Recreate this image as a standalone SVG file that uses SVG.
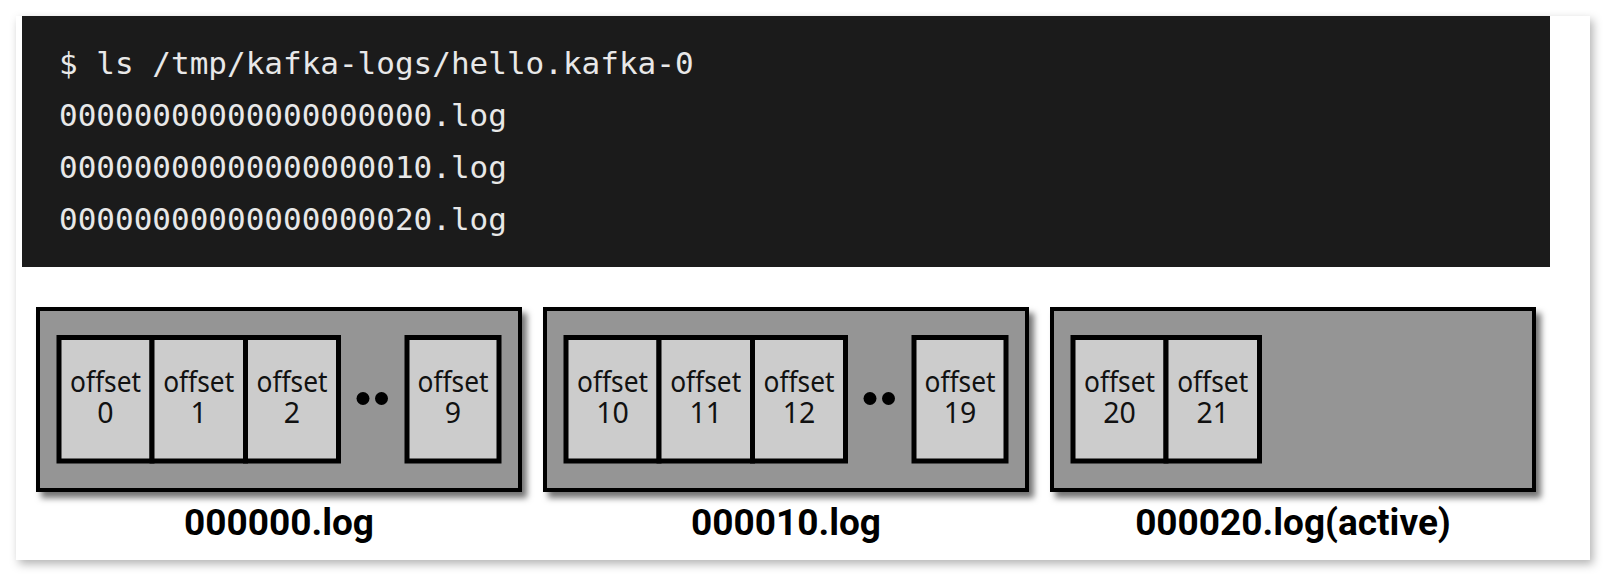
<svg xmlns="http://www.w3.org/2000/svg" width="1606" height="576" viewBox="0 0 1606 576">
  <defs>
    <filter id="cardShadow" x="-5%" y="-10%" width="110%" height="120%">
      <feDropShadow dx="3" dy="4" stdDeviation="5" flood-color="#000" flood-opacity="0.3"/>
    </filter>
    <filter id="boxShadow" x="-5%" y="-10%" width="112%" height="125%">
      <feDropShadow dx="5" dy="6" stdDeviation="3" flood-color="#000" flood-opacity="0.55"/>
    </filter>
  </defs>
  <style>
    .term { font-family: "DejaVu Sans Mono", "Liberation Mono", monospace; font-size: 31px; fill: #e8e8e8; }
    .seg { fill: #959595; stroke: #000; stroke-width: 4; }
    .cell { fill: #cccccc; stroke: #000; stroke-width: 5; }
    .ct { font-family: "Noto Sans", "Open Sans", sans-serif; font-size: 28.5px; fill: #111; text-anchor: middle; }
    .lbl { font-family: Roboto, "Liberation Sans", sans-serif; font-weight: 700; font-size: 37px; fill: #000; text-anchor: middle; }
    .dot { fill: #000; }
  </style>

  <!-- page card -->
  <rect x="16" y="16" width="1574" height="544" fill="#fff" filter="url(#cardShadow)"/>

  <!-- terminal listing -->
  <g id="terminal">
    <rect x="22" y="16" width="1528" height="251" fill="#1b1b1b"/>
    <text class="term" x="59" y="74">$ ls /tmp/kafka-logs/hello.kafka-0</text>
    <text class="term" x="59" y="126">00000000000000000000.log</text>
    <text class="term" x="59" y="178">00000000000000000010.log</text>
    <text class="term" x="59" y="230">00000000000000000020.log</text>
  </g>

  <!-- segment 000000.log -->
  <g id="segment-000000" transform="translate(36,307)">
    <rect class="seg" x="2" y="2" width="482" height="181" filter="url(#boxShadow)"/>
    <rect class="cell" x="23" y="30.5" width="93" height="123.5"/>
    <rect class="cell" x="116" y="30.5" width="93.5" height="123.5"/>
    <rect class="cell" x="209.5" y="30.5" width="93" height="123.5"/>
    <rect class="cell" x="371" y="30.5" width="92" height="123.5"/>
    <text class="ct" x="69.5" y="84.7" textLength="71" lengthAdjust="spacingAndGlyphs">offset</text><text class="ct" x="69.5" y="116.3">0</text>
    <text class="ct" x="162.7" y="84.7" textLength="71" lengthAdjust="spacingAndGlyphs">offset</text><text class="ct" x="162.7" y="116.3">1</text>
    <text class="ct" x="256" y="84.7" textLength="71" lengthAdjust="spacingAndGlyphs">offset</text><text class="ct" x="256" y="116.3">2</text>
    <circle class="dot" cx="327" cy="91.5" r="6.5"/>
    <circle class="dot" cx="345.5" cy="91.5" r="6.5"/>
    <text class="ct" x="417" y="84.7" textLength="71" lengthAdjust="spacingAndGlyphs">offset</text><text class="ct" x="417" y="116.3">9</text>
    <text class="lbl" x="243" y="228">000000.log</text>
  </g>

  <!-- segment 000010.log -->
  <g id="segment-000010" transform="translate(543,307)">
    <rect class="seg" x="2" y="2" width="482" height="181" filter="url(#boxShadow)"/>
    <rect class="cell" x="23" y="30.5" width="93" height="123.5"/>
    <rect class="cell" x="116" y="30.5" width="93.5" height="123.5"/>
    <rect class="cell" x="209.5" y="30.5" width="93" height="123.5"/>
    <rect class="cell" x="371" y="30.5" width="92" height="123.5"/>
    <text class="ct" x="69.5" y="84.7" textLength="71" lengthAdjust="spacingAndGlyphs">offset</text><text class="ct" x="69.5" y="116.3">10</text>
    <text class="ct" x="162.7" y="84.7" textLength="71" lengthAdjust="spacingAndGlyphs">offset</text><text class="ct" x="162.7" y="116.3">11</text>
    <text class="ct" x="256" y="84.7" textLength="71" lengthAdjust="spacingAndGlyphs">offset</text><text class="ct" x="256" y="116.3">12</text>
    <circle class="dot" cx="327" cy="91.5" r="6.5"/>
    <circle class="dot" cx="345.5" cy="91.5" r="6.5"/>
    <text class="ct" x="417" y="84.7" textLength="71" lengthAdjust="spacingAndGlyphs">offset</text><text class="ct" x="417" y="116.3">19</text>
    <text class="lbl" x="243" y="228">000010.log</text>
  </g>

  <!-- segment 000020.log (active) -->
  <g id="segment-000020" transform="translate(1050,307)">
    <rect class="seg" x="2" y="2" width="482" height="181" filter="url(#boxShadow)"/>
    <rect class="cell" x="23" y="30.5" width="93" height="123.5"/>
    <rect class="cell" x="116" y="30.5" width="93.5" height="123.5"/>
    <text class="ct" x="69.5" y="84.7" textLength="71" lengthAdjust="spacingAndGlyphs">offset</text><text class="ct" x="69.5" y="116.3">20</text>
    <text class="ct" x="162.7" y="84.7" textLength="71" lengthAdjust="spacingAndGlyphs">offset</text><text class="ct" x="162.7" y="116.3">21</text>
    <text class="lbl" x="243" y="228">000020.log(active)</text>
  </g>

  <g id="connectors"/>
</svg>
